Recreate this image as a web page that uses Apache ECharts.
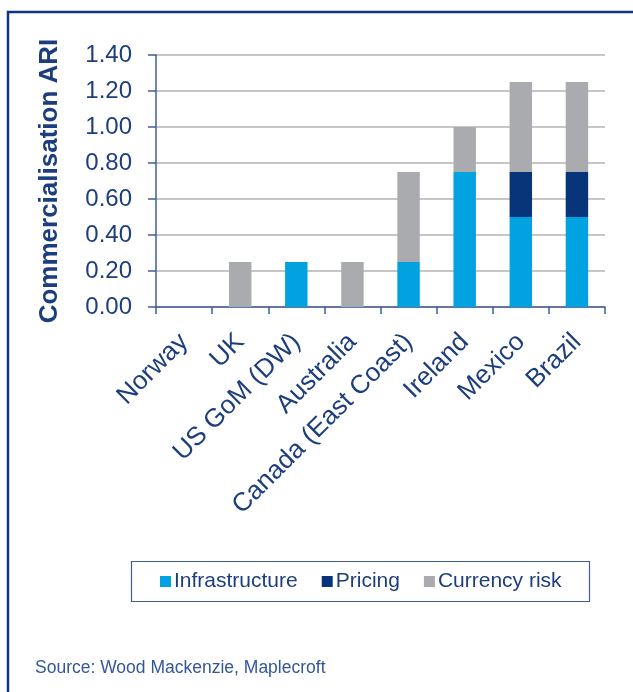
<!DOCTYPE html>
<html>
<head>
<meta charset="utf-8">
<script src="https://cdn.jsdelivr.net/npm/echarts@6/dist/echarts.min.js"></script>
<style>
  html, body { margin: 0; padding: 0; background: #ffffff; }
  #chart { width: 633px; height: 692px; }
</style>
</head>
<body>
<div id="chart"></div>
<script>
// Countries on the horizontal axis
const categories = ['Norway', 'UK', 'US GoM (DW)', 'Australia', 'Canada (East Coast)', 'Ireland', 'Mexico', 'Brazil'];

// Stacked components of the commercialisation ARI score
const infrastructure = [0, 0, 0.25, 0, 0.25, 0.75, 0.50, 0.50];
const pricing        = [0, 0, 0, 0, 0, 0, 0.25, 0.25];
const currencyRisk   = [0, 0.25, 0, 0.25, 0.50, 0.25, 0.50, 0.50];

const seriesNames = ['Infrastructure', 'Pricing', 'Currency risk'];
const yTicks = { min: 0, max: 1.4, step: 0.2 };
const sourceNote = 'Source: Wood Mackenzie, Maplecroft';

const navy = '#1d3e7e';
const axisBlue = '#3f5d9b';
const colors = ['#00a3e0', '#08347a', '#a9abae'];
const font = '"Liberation Sans", Arial, Helvetica, sans-serif';

const chart = echarts.init(document.getElementById('chart'), null, { renderer: 'canvas' });

const mkSeries = (name, data, i) => ({
  name: name,
  type: 'bar',
  stack: 'ari',
  data: data,
  barWidth: '40%',
  itemStyle: { color: colors[i] }
});

chart.setOption({
  backgroundColor: '#ffffff',
  animation: false,
  textStyle: { fontFamily: font },
  grid: { left: 156, right: 28, top: 55, bottom: 385, containLabel: false },
  xAxis: {
    type: 'category',
    data: categories,
    axisLine: { lineStyle: { color: axisBlue, width: 1.5 } },
    axisTick: { show: true, length: 7, lineStyle: { color: axisBlue, width: 1.5 } },
    axisLabel: {
      rotate: 45,
      margin: 31,
      interval: 0,
      color: navy,
      fontSize: 26,
      fontFamily: font
    }
  },
  yAxis: {
    type: 'value',
    min: yTicks.min,
    max: yTicks.max,
    interval: yTicks.step,
    name: 'Commercialisation ARI',
    nameLocation: 'middle',
    nameGap: 93,
    nameTextStyle: { color: navy, fontSize: 26, fontWeight: 'bold', fontFamily: font },
    axisLine: { show: true, lineStyle: { color: axisBlue, width: 1.5 } },
    axisTick: { show: true, length: 8, lineStyle: { color: axisBlue, width: 1.5 } },
    axisLabel: {
      margin: 24,
      color: navy,
      fontSize: 24,
      fontFamily: font,
      formatter: v => v.toFixed(2)
    },
    splitLine: { show: true, lineStyle: { color: '#b3b3b3', width: 1.5 } }
  },
  legend: {
    data: seriesNames,
    left: 155,
    top: 566,
    icon: 'rect',
    itemWidth: 11,
    itemHeight: 11,
    itemGap: 24,
    textStyle: { color: navy, fontSize: 21, fontFamily: font, padding: [0, 0, 0, -2] }
  },
  graphic: [
    {
      type: 'rect',
      shape: { x: 8, y: 12, width: 700, height: 720 },
      style: { fill: 'none', stroke: '#0f3683', lineWidth: 2.5 },
      silent: true
    },
    {
      type: 'rect',
      shape: { x: 131.5, y: 561.5, width: 458, height: 40 },
      style: { fill: 'none', stroke: '#3f5d9b', lineWidth: 1.2 },
      silent: true
    },
    {
      type: 'text',
      left: 35,
      top: 659,
      style: { text: sourceNote, fill: '#34579a', font: '17.5px ' + font }
    }
  ],
  series: [
    mkSeries(seriesNames[0], infrastructure, 0),
    mkSeries(seriesNames[1], pricing, 1),
    mkSeries(seriesNames[2], currencyRisk, 2)
  ]
});
</script>
</body>
</html>
